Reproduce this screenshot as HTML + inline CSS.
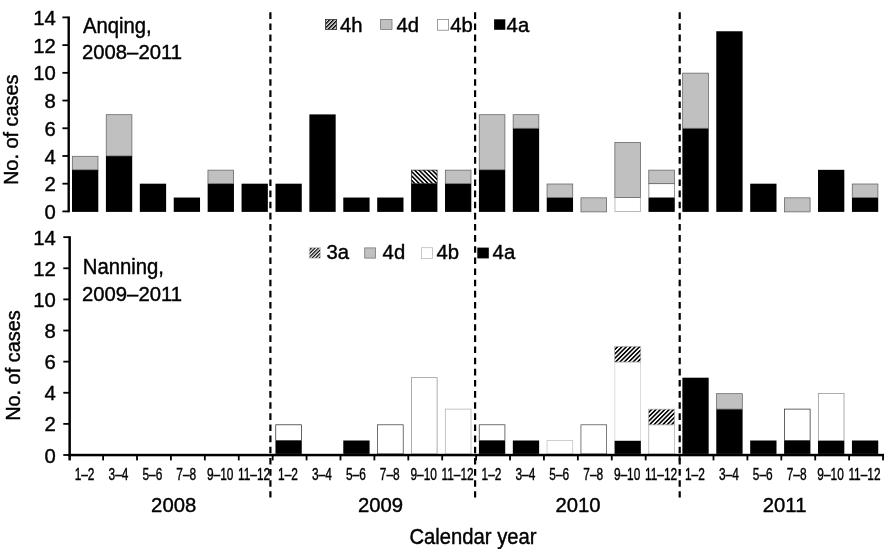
<!DOCTYPE html>
<html><head><meta charset="utf-8"><title>Cases by calendar year</title>
<style>
html,body{margin:0;padding:0;background:#fff;}
svg{display:block;font-family:"Liberation Sans", Arial, Helvetica, sans-serif;fill:#000;}
text{font-size:20.3px;stroke:#000;stroke-width:0.4px;}
</style></head><body>
<svg width="886" height="549" viewBox="0 0 886 549">
<rect width="886" height="549" fill="#fff"/>
<defs>
<pattern id="hb" width="3.11" height="3.11" patternUnits="userSpaceOnUse" patternTransform="translate(-0.7 0) rotate(45)"><rect width="3.11" height="3.11" fill="#fff"/><rect width="3.11" height="1.6" fill="#000"/></pattern>
<pattern id="hf" width="3.11" height="3.11" patternUnits="userSpaceOnUse" patternTransform="rotate(-45)"><rect width="3.11" height="3.11" fill="#fff"/><rect width="3.11" height="1.6" fill="#000"/></pattern>
<pattern id="hl" width="2.8" height="2.8" patternUnits="userSpaceOnUse" patternTransform="rotate(-45)"><rect width="2.8" height="2.8" fill="#fff"/><rect width="2.8" height="1.5" fill="#000"/></pattern>
<pattern id="hm" width="2.5" height="2.5" patternUnits="userSpaceOnUse" patternTransform="rotate(-45)"><rect width="2.5" height="2.5" fill="#fff"/><rect width="2.5" height="1.25" fill="#000"/></pattern>
</defs>
<rect x="72" y="169.83" width="26.3" height="42.07" fill="#000"/>
<rect x="72.3" y="156.27" width="25.7" height="13.56" fill="#c0c0c0" stroke="#5a5a5a" stroke-width="0.7"/>
<rect x="105.91" y="155.97" width="26.3" height="55.93" fill="#000"/>
<rect x="106.21" y="114.7" width="25.7" height="41.27" fill="#c0c0c0" stroke="#5a5a5a" stroke-width="0.7"/>
<rect x="139.82" y="183.69" width="26.3" height="28.21" fill="#000"/>
<rect x="173.73" y="197.54" width="26.3" height="14.36" fill="#000"/>
<rect x="207.64" y="183.69" width="26.3" height="28.21" fill="#000"/>
<rect x="207.94" y="170.13" width="25.7" height="13.56" fill="#c0c0c0" stroke="#5a5a5a" stroke-width="0.7"/>
<rect x="241.55" y="183.69" width="26.3" height="28.21" fill="#000"/>
<rect x="275.46" y="183.69" width="26.3" height="28.21" fill="#000"/>
<rect x="309.37" y="114.4" width="26.3" height="97.5" fill="#000"/>
<rect x="343.28" y="197.54" width="26.3" height="14.36" fill="#000"/>
<rect x="377.19" y="197.54" width="26.3" height="14.36" fill="#000"/>
<rect x="411.1" y="183.69" width="26.3" height="28.21" fill="#000"/>
<rect x="411.4" y="170.13" width="25.7" height="13.56" fill="url(#hb)" stroke="#222" stroke-width="0.7"/>
<rect x="445.01" y="183.69" width="26.3" height="28.21" fill="#000"/>
<rect x="445.31" y="170.13" width="25.7" height="13.56" fill="#c0c0c0" stroke="#5a5a5a" stroke-width="0.7"/>
<rect x="478.92" y="169.83" width="26.3" height="42.07" fill="#000"/>
<rect x="479.22" y="114.7" width="25.7" height="55.13" fill="#c0c0c0" stroke="#5a5a5a" stroke-width="0.7"/>
<rect x="512.83" y="128.26" width="26.3" height="83.64" fill="#000"/>
<rect x="513.13" y="114.7" width="25.7" height="13.56" fill="#c0c0c0" stroke="#5a5a5a" stroke-width="0.7"/>
<rect x="546.74" y="197.54" width="26.3" height="14.36" fill="#000"/>
<rect x="547.04" y="183.99" width="25.7" height="13.56" fill="#c0c0c0" stroke="#5a5a5a" stroke-width="0.7"/>
<rect x="580.95" y="197.84" width="25.7" height="14.06" fill="#c0c0c0" stroke="#5a5a5a" stroke-width="0.7"/>
<rect x="614.96" y="197.54" width="25.5" height="13.96" fill="#fff" stroke="#bbb" stroke-width="1.0"/>
<rect x="614.86" y="142.42" width="25.7" height="55.13" fill="#c0c0c0" stroke="#5a5a5a" stroke-width="0.7"/>
<rect x="648.47" y="197.54" width="26.3" height="14.36" fill="#000"/>
<rect x="648.87" y="183.69" width="25.5" height="13.86" fill="#fff" stroke="#666" stroke-width="0.7"/>
<rect x="648.77" y="170.13" width="25.7" height="13.56" fill="#c0c0c0" stroke="#5a5a5a" stroke-width="0.7"/>
<rect x="682.38" y="128.26" width="26.3" height="83.64" fill="#000"/>
<rect x="682.68" y="73.13" width="25.7" height="55.13" fill="#c0c0c0" stroke="#5a5a5a" stroke-width="0.7"/>
<rect x="716.29" y="31.26" width="26.3" height="180.64" fill="#000"/>
<rect x="750.2" y="183.69" width="26.3" height="28.21" fill="#000"/>
<rect x="784.41" y="197.84" width="25.7" height="14.06" fill="#c0c0c0" stroke="#5a5a5a" stroke-width="0.7"/>
<rect x="818.02" y="169.83" width="26.3" height="42.07" fill="#000"/>
<rect x="851.93" y="197.54" width="26.3" height="14.36" fill="#000"/>
<rect x="852.23" y="183.99" width="25.7" height="13.56" fill="#c0c0c0" stroke="#5a5a5a" stroke-width="0.7"/>
<rect x="275.46" y="440.5" width="26.3" height="13.4" fill="#000"/>
<rect x="275.76" y="424.8" width="25.7" height="15.7" fill="#fff" stroke="#222" stroke-width="0.7"/>
<rect x="343.28" y="440.5" width="26.3" height="13.4" fill="#000"/>
<rect x="377.49" y="424.8" width="25.7" height="29.1" fill="#fff" stroke="#333" stroke-width="0.7"/>
<rect x="411.4" y="377.7" width="25.7" height="76.2" fill="#fff" stroke="#888" stroke-width="0.7"/>
<rect x="445.31" y="409.1" width="25.7" height="44.8" fill="#fff" stroke="#aaa" stroke-width="0.7"/>
<rect x="478.92" y="440.5" width="26.3" height="13.4" fill="#000"/>
<rect x="479.22" y="424.8" width="25.7" height="15.7" fill="#fff" stroke="#333" stroke-width="0.7"/>
<rect x="512.83" y="440.5" width="26.3" height="13.4" fill="#000"/>
<rect x="547.04" y="440.5" width="25.7" height="13.4" fill="#fff" stroke="#bbb" stroke-width="0.7"/>
<rect x="580.95" y="424.8" width="25.7" height="29.1" fill="#fff" stroke="#444" stroke-width="0.7"/>
<rect x="614.56" y="440.5" width="26.3" height="13.4" fill="#000"/>
<rect x="614.86" y="362" width="25.7" height="78.5" fill="#fff" stroke="#ccc" stroke-width="0.7"/>
<rect x="614.66" y="346.4" width="26.1" height="15.6" fill="url(#hf)" stroke="#aaa" stroke-width="0.7"/>
<rect x="648.77" y="424.8" width="25.7" height="29.1" fill="#fff" stroke="#aaa" stroke-width="0.7"/>
<rect x="648.57" y="409.2" width="26.1" height="15.6" fill="url(#hf)" stroke="#aaa" stroke-width="0.7"/>
<rect x="682.38" y="377.7" width="26.3" height="76.2" fill="#000"/>
<rect x="716.29" y="409.1" width="26.3" height="44.8" fill="#000"/>
<rect x="716.59" y="393.7" width="25.7" height="15.4" fill="#c0c0c0" stroke="#5a5a5a" stroke-width="0.7"/>
<rect x="750.2" y="440.5" width="26.3" height="13.4" fill="#000"/>
<rect x="784.11" y="440.5" width="26.3" height="13.4" fill="#000"/>
<rect x="784.41" y="409.1" width="25.7" height="31.4" fill="#fff" stroke="#222" stroke-width="0.7"/>
<rect x="818.02" y="440.5" width="26.3" height="13.4" fill="#000"/>
<rect x="818.32" y="393.4" width="25.7" height="47.1" fill="#fff" stroke="#888" stroke-width="0.7"/>
<rect x="851.93" y="440.5" width="26.3" height="13.4" fill="#000"/>
<rect x="67.5" y="16.5" width="2.4" height="195.8" fill="#000"/>
<rect x="62.4" y="210.5" width="6" height="1.8" fill="#000"/>
<text transform="translate(55.9 219) scale(1 1.035)" text-anchor="end">0</text>
<rect x="62.4" y="182.79" width="6" height="1.8" fill="#000"/>
<text transform="translate(55.9 191.29) scale(1 1.035)" text-anchor="end">2</text>
<rect x="62.4" y="155.07" width="6" height="1.8" fill="#000"/>
<text transform="translate(55.9 163.57) scale(1 1.035)" text-anchor="end">4</text>
<rect x="62.4" y="127.36" width="6" height="1.8" fill="#000"/>
<text transform="translate(55.9 135.86) scale(1 1.035)" text-anchor="end">6</text>
<rect x="62.4" y="99.64" width="6" height="1.8" fill="#000"/>
<text transform="translate(55.9 108.14) scale(1 1.035)" text-anchor="end">8</text>
<rect x="62.4" y="71.93" width="6" height="1.8" fill="#000"/>
<text transform="translate(55.9 80.43) scale(1 1.035)" text-anchor="end">10</text>
<rect x="62.4" y="44.22" width="6" height="1.8" fill="#000"/>
<text transform="translate(55.9 52.72) scale(1 1.035)" text-anchor="end">12</text>
<rect x="62.4" y="16.5" width="6" height="1.8" fill="#000"/>
<text transform="translate(55.9 25) scale(1 1.035)" text-anchor="end">14</text>
<rect x="68.4" y="236.2" width="2.5" height="224.2" fill="#000"/>
<rect x="63.3" y="454.1" width="6" height="1.8" fill="#000"/>
<text transform="translate(55.9 462.6) scale(1 1.035)" text-anchor="end">0</text>
<rect x="63.3" y="422.98" width="6" height="1.8" fill="#000"/>
<text transform="translate(55.9 431.48) scale(1 1.035)" text-anchor="end">2</text>
<rect x="63.3" y="391.86" width="6" height="1.8" fill="#000"/>
<text transform="translate(55.9 400.36) scale(1 1.035)" text-anchor="end">4</text>
<rect x="63.3" y="360.74" width="6" height="1.8" fill="#000"/>
<text transform="translate(55.9 369.24) scale(1 1.035)" text-anchor="end">6</text>
<rect x="63.3" y="329.62" width="6" height="1.8" fill="#000"/>
<text transform="translate(55.9 338.12) scale(1 1.035)" text-anchor="end">8</text>
<rect x="63.3" y="298.5" width="6" height="1.8" fill="#000"/>
<text transform="translate(55.9 307) scale(1 1.035)" text-anchor="end">10</text>
<rect x="63.3" y="267.38" width="6" height="1.8" fill="#000"/>
<text transform="translate(55.9 275.88) scale(1 1.035)" text-anchor="end">12</text>
<rect x="63.3" y="236.26" width="6" height="1.8" fill="#000"/>
<text transform="translate(55.9 244.76) scale(1 1.035)" text-anchor="end">14</text>
<rect x="68.4" y="453.8" width="815.6" height="2.5" fill="#000"/>
<rect x="102.21" y="455" width="1.8" height="5.4" fill="#000"/>
<rect x="136.12" y="455" width="1.8" height="5.4" fill="#000"/>
<rect x="170.03" y="455" width="1.8" height="5.4" fill="#000"/>
<rect x="203.94" y="455" width="1.8" height="5.4" fill="#000"/>
<rect x="237.85" y="455" width="1.8" height="5.4" fill="#000"/>
<rect x="271.76" y="455" width="1.8" height="5.4" fill="#000"/>
<rect x="305.67" y="455" width="1.8" height="5.4" fill="#000"/>
<rect x="339.58" y="455" width="1.8" height="5.4" fill="#000"/>
<rect x="373.49" y="455" width="1.8" height="5.4" fill="#000"/>
<rect x="407.4" y="455" width="1.8" height="5.4" fill="#000"/>
<rect x="441.31" y="455" width="1.8" height="5.4" fill="#000"/>
<rect x="475.22" y="455" width="1.8" height="5.4" fill="#000"/>
<rect x="509.13" y="455" width="1.8" height="5.4" fill="#000"/>
<rect x="543.04" y="455" width="1.8" height="5.4" fill="#000"/>
<rect x="576.95" y="455" width="1.8" height="5.4" fill="#000"/>
<rect x="610.86" y="455" width="1.8" height="5.4" fill="#000"/>
<rect x="644.77" y="455" width="1.8" height="5.4" fill="#000"/>
<rect x="678.68" y="455" width="1.8" height="5.4" fill="#000"/>
<rect x="712.59" y="455" width="1.8" height="5.4" fill="#000"/>
<rect x="746.5" y="455" width="1.8" height="5.4" fill="#000"/>
<rect x="780.41" y="455" width="1.8" height="5.4" fill="#000"/>
<rect x="814.32" y="455" width="1.8" height="5.4" fill="#000"/>
<rect x="848.23" y="455" width="1.8" height="5.4" fill="#000"/>
<rect x="882.14" y="455" width="1.8" height="5.4" fill="#000"/>
<text transform="translate(84.56 480.3) scale(0.73 1.0)" style="font-size:16.3px" text-anchor="middle">1–2</text>
<text transform="translate(118.47 480.3) scale(0.73 1.0)" style="font-size:16.3px" text-anchor="middle">3–4</text>
<text transform="translate(152.37 480.3) scale(0.73 1.0)" style="font-size:16.3px" text-anchor="middle">5–6</text>
<text transform="translate(186.28 480.3) scale(0.73 1.0)" style="font-size:16.3px" text-anchor="middle">7–8</text>
<text transform="translate(220.19 480.3) scale(0.73 1.0)" style="font-size:16.3px" text-anchor="middle">9–10</text>
<text transform="translate(254.1 480.3) scale(0.73 1.0)" style="font-size:16.3px" text-anchor="middle">11–12</text>
<text transform="translate(288.01 480.3) scale(0.73 1.0)" style="font-size:16.3px" text-anchor="middle">1–2</text>
<text transform="translate(321.92 480.3) scale(0.73 1.0)" style="font-size:16.3px" text-anchor="middle">3–4</text>
<text transform="translate(355.83 480.3) scale(0.73 1.0)" style="font-size:16.3px" text-anchor="middle">5–6</text>
<text transform="translate(389.74 480.3) scale(0.73 1.0)" style="font-size:16.3px" text-anchor="middle">7–8</text>
<text transform="translate(423.65 480.3) scale(0.73 1.0)" style="font-size:16.3px" text-anchor="middle">9–10</text>
<text transform="translate(457.56 480.3) scale(0.73 1.0)" style="font-size:16.3px" text-anchor="middle">11–12</text>
<text transform="translate(491.47 480.3) scale(0.73 1.0)" style="font-size:16.3px" text-anchor="middle">1–2</text>
<text transform="translate(525.38 480.3) scale(0.73 1.0)" style="font-size:16.3px" text-anchor="middle">3–4</text>
<text transform="translate(559.29 480.3) scale(0.73 1.0)" style="font-size:16.3px" text-anchor="middle">5–6</text>
<text transform="translate(593.21 480.3) scale(0.73 1.0)" style="font-size:16.3px" text-anchor="middle">7–8</text>
<text transform="translate(627.12 480.3) scale(0.73 1.0)" style="font-size:16.3px" text-anchor="middle">9–10</text>
<text transform="translate(661.02 480.3) scale(0.73 1.0)" style="font-size:16.3px" text-anchor="middle">11–12</text>
<text transform="translate(694.93 480.3) scale(0.73 1.0)" style="font-size:16.3px" text-anchor="middle">1–2</text>
<text transform="translate(728.85 480.3) scale(0.73 1.0)" style="font-size:16.3px" text-anchor="middle">3–4</text>
<text transform="translate(762.75 480.3) scale(0.73 1.0)" style="font-size:16.3px" text-anchor="middle">5–6</text>
<text transform="translate(796.66 480.3) scale(0.73 1.0)" style="font-size:16.3px" text-anchor="middle">7–8</text>
<text transform="translate(830.58 480.3) scale(0.73 1.0)" style="font-size:16.3px" text-anchor="middle">9–10</text>
<text transform="translate(864.49 480.3) scale(0.73 1.0)" style="font-size:16.3px" text-anchor="middle">11–12</text>
<text transform="translate(173.65 511.8) scale(1 1.035)" text-anchor="middle">2008</text>
<text transform="translate(380.5 511.8) scale(1 1.035)" text-anchor="middle">2009</text>
<text transform="translate(578 511.8) scale(1 1.035)" text-anchor="middle">2010</text>
<text transform="translate(784.6 511.8) scale(1 1.035)" text-anchor="middle">2011</text>
<text transform="translate(409.4 543.6) scale(1 1.12)" style="font-size:20.25px">Calendar year</text>
<line x1="270.4" y1="12.3" x2="270.4" y2="497.6" stroke="#000" stroke-width="2.2" stroke-dasharray="6.6 4.54"/>
<line x1="475.1" y1="12.3" x2="475.1" y2="497.6" stroke="#000" stroke-width="2.2" stroke-dasharray="6.6 4.54"/>
<line x1="679.7" y1="12.3" x2="679.7" y2="497.6" stroke="#000" stroke-width="2.2" stroke-dasharray="6.6 4.54"/>
<text transform="translate(82.9 32.7) scale(1 1.1)">Anqing,</text>
<text transform="translate(82 58.8) scale(1 1.035)">2008–2011</text>
<text transform="translate(82.8 274.4) scale(1 1.09)">Nanning,</text>
<text transform="translate(82 300.6) scale(1 1.035)">2009–2011</text>
<text transform="translate(18.3 129.8) rotate(-90) scale(0.98 1.035)" text-anchor="middle">No. of cases</text>
<text transform="translate(20 365.6) rotate(-90) scale(0.98 1.035)" text-anchor="middle">No. of cases</text>
<rect x="325.4" y="19.4" width="11.2" height="10.2" fill="url(#hl)" stroke="#333" stroke-width="0.8"/>
<text transform="translate(340 32) scale(1 1.035)">4h</text>
<rect x="380.6" y="19.4" width="11.4" height="10.2" fill="#c0c0c0" stroke="#777" stroke-width="0.8"/>
<text transform="translate(396.4 32) scale(1 1.035)">4d</text>
<rect x="437.4" y="19.4" width="11.2" height="10.8" fill="#fff" stroke="#888" stroke-width="0.8"/>
<text transform="translate(450.2 32) scale(1 1.035)">4b</text>
<rect x="494.1" y="19.3" width="11.2" height="10.5" fill="#000"/>
<text transform="translate(506.6 32) scale(1 1.035)">4a</text>
<rect x="309.2" y="247.6" width="11.2" height="10.6" fill="url(#hm)" stroke="#ccc" stroke-width="0.7"/>
<text transform="translate(326.4 259.1) scale(1 1.035)">3a</text>
<rect x="364.7" y="247.9" width="10.8" height="10.2" fill="#c0c0c0" stroke="#777" stroke-width="0.8"/>
<text transform="translate(382.6 259.1) scale(1 1.035)">4d</text>
<rect x="421.5" y="247.7" width="11" height="10.7" fill="#fff" stroke="#bbb" stroke-width="0.8"/>
<text transform="translate(436.4 259.1) scale(1 1.035)">4b</text>
<rect x="477.3" y="247.6" width="11.5" height="10.8" fill="#000"/>
<text transform="translate(492.6 259.1) scale(1 1.035)">4a</text>
</svg>
</body></html>
